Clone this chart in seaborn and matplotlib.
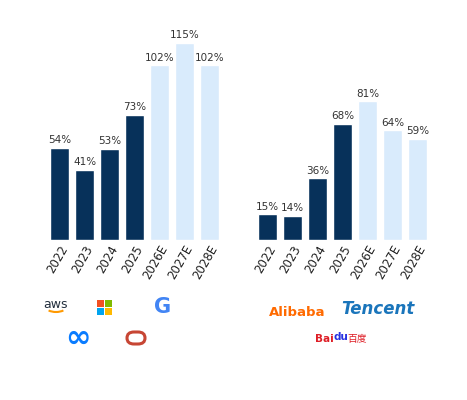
import matplotlib
matplotlib.use("Agg")
import matplotlib.pyplot as plt
import seaborn as sns
import pandas as pd
from matplotlib.patches import Rectangle, FancyBboxPatch, Arc

years = ["2022", "2023", "2024", "2025", "2026E", "2027E", "2028E"]
us_values = [54, 41, 53, 73, 102, 115, 102]
cn_values = [15, 14, 36, 68, 81, 64, 59]
kinds = ["Actual", "Actual", "Actual", "Actual", "Estimate", "Estimate", "Estimate"]

DARK = "#07315A"
LIGHT = "#D9EBFC"
palette = {"Actual": DARK, "Estimate": LIGHT}

sns.set_theme(style="white")
plt.rcParams["font.family"] = ["DejaVu Sans", "Noto Sans CJK SC"]

fig = plt.figure(figsize=(4.67, 4.0), dpi=100)
W, H = 467, 400

def add_axes_px(left, right, bottom, top):
    return fig.add_axes([left / W, 1 - bottom / H, (right - left) / W, (bottom - top) / H])

ax1 = add_axes_px(47, 222, 240, 26)
ax2 = add_axes_px(255, 430, 240, 26)

for ax, vals in ((ax1, us_values), (ax2, cn_values)):
    df = pd.DataFrame({"year": years, "value": vals, "kind": kinds})
    sns.barplot(data=df, x="year", y="value", hue="kind", palette=palette,
                dodge=False, width=0.76, legend=False, ax=ax, saturation=1)
    ax.set_ylim(0, 125)
    ax.set_xlim(-0.5, 6.5)
    for c in ax.containers:
        ax.bar_label(c, fmt="{:.0f}%", padding=2, fontsize=7.5, color="#333333")
    ax.set_yticks([])
    ax.set_xlabel("")
    ax.set_ylabel("")
    for s in ax.spines.values():
        s.set_visible(False)
    ax.tick_params(axis="x", length=0, pad=2, labelsize=8.5, labelcolor="#222222")
    for lbl in ax.get_xticklabels():
        lbl.set_rotation(60)
        lbl.set_ha("right")
        lbl.set_rotation_mode("anchor")

def fx(x):
    return x / W

def fy(y):
    return 1 - y / H

# US logos (approximated)
fig.text(fx(56), fy(304), "aws", fontsize=9, color="#232F3E", ha="center", va="center")
fig.add_artist(Arc((fx(56), fy(306)), 22 / W, 12 / H, theta1=215, theta2=325,
                   transform=fig.transFigure, color="#FF9900", lw=1.5))
ms_colors = ["#F25022", "#7FBA00", "#00A4EF", "#FFB900"]
for i, col in enumerate(ms_colors):
    cx = 97 + (i % 2) * 8
    cy = 300 + (i // 2) * 8
    fig.add_artist(Rectangle((fx(cx), fy(cy + 7)), 7 / W, 7 / H, transform=fig.transFigure,
                             color=col, lw=0))
fig.text(fx(163), fy(307), "G", fontsize=15, fontweight="bold", color="#4285F4",
         ha="center", va="center")
fig.text(fx(78), fy(338), "\u221e", fontsize=22, fontweight="bold", color="#0A7CFF",
         ha="center", va="center")
fig.add_artist(FancyBboxPatch((fx(127), fy(344)), 18 / W, 12 / H, transform=fig.transFigure,
                              boxstyle="round,pad=0,rounding_size=0.015", fill=False,
                              ec="#C74634", lw=2.2))

# China logos (approximated)
fig.text(fx(297), fy(313), "Alibaba", fontsize=9.5, fontweight="bold", color="#FF6A00",
         ha="center", va="center")
fig.text(fx(378), fy(309), "Tencent", fontsize=12, fontstyle="italic", fontweight="bold",
         color="#1A75BB", ha="center", va="center")
fig.text(fx(315), fy(339), "Bai", fontsize=7.5, fontweight="bold", color="#DE1E26",
         ha="left", va="center")
fig.text(fx(333), fy(337), "du", fontsize=7.5, fontweight="bold", color="#2932E1",
         ha="left", va="center")
fig.text(fx(347), fy(339), "百度", fontsize=7, color="#DE1E26", ha="left", va="center",
         family=["Noto Sans CJK SC", "DejaVu Sans"])

fig.savefig("out.png", dpi=100)
